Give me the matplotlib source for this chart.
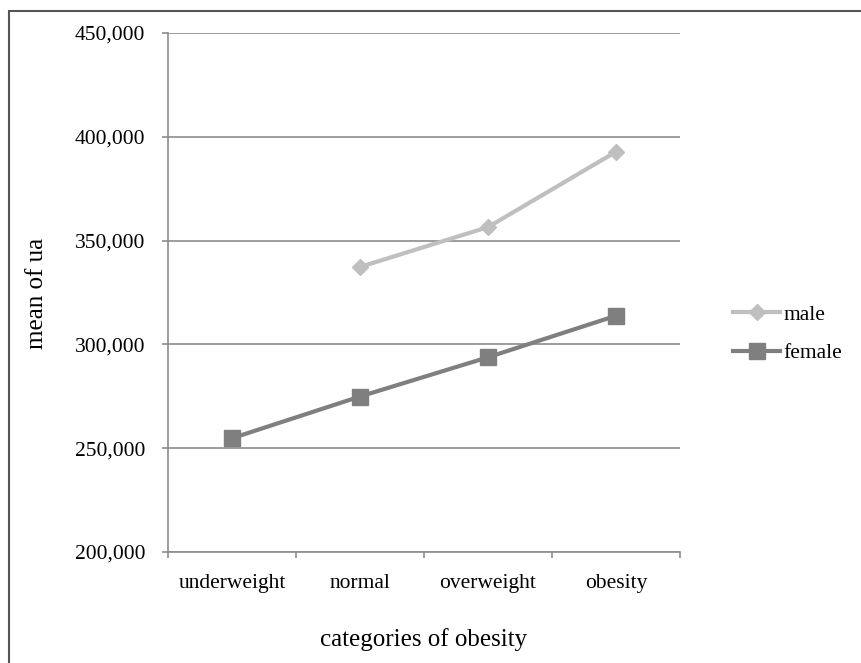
import matplotlib.pyplot as plt
import numpy as np
from matplotlib.patches import Rectangle

plt.rcParams['font.family'] = ['Liberation Serif', 'DejaVu Serif']

# Data
categories = ["underweight", "normal", "overweight", "obesity"]
male = [np.nan, 337300, 356500, 392800]
female = [254800, 274900, 293800, 313800]
yticks = [200000, 250000, 300000, 350000, 400000, 450000]

fig = plt.figure(figsize=(8.62, 6.63), dpi=100)
ax = fig.add_axes([168 / 862, 1 - 552 / 663, 512 / 862, 519 / 663])

x = np.arange(len(categories))
grid_col = "#8c8c8c"

# Lines
ax.plot(x, male, color="#bfbfbf", lw=3, marker="D", ms=8.5,
        label="male", zorder=3)
ax.plot(x, female, color="#7f7f7f", lw=3, marker="s", ms=11,
        label="female", zorder=3)

# Axes formatting
ax.set_xlim(-0.5, 3.5)
ax.set_ylim(200000, 450000)
ax.set_yticks(yticks)
ax.set_yticklabels([f"{v:,}" for v in yticks])
ax.yaxis.grid(True, color=grid_col, lw=1.2)
ax.set_axisbelow(True)

ax.set_xticks(np.arange(-0.5, 4, 1))
ax.set_xticklabels([])
ax.set_xticks(x, minor=True)
ax.set_xticklabels(categories, minor=True)
ax.tick_params(axis="x", which="minor", length=0, pad=16, labelsize=15.5)
ax.tick_params(axis="x", which="major", length=4.5, color=grid_col, width=1.2)
ax.tick_params(axis="y", length=4.5, color=grid_col, width=1.2, pad=12,
               labelsize=15.5)

for s in ["top", "right"]:
    ax.spines[s].set_visible(False)
for s in ["left", "bottom"]:
    ax.spines[s].set_color(grid_col)
    ax.spines[s].set_linewidth(1.2)

fig.text(37 / 862, 1 - 293 / 663, "mean of ua", rotation=90,
         ha="center", va="center", fontsize=18)
fig.text(424 / 862, 1 - 640 / 663, "categories of obesity",
         ha="center", va="center", fontsize=18)

ax.legend(loc="center left", bbox_to_anchor=(733 / 862, 1 - 334 / 663),
          bbox_transform=fig.transFigure, frameon=False, fontsize=15.5,
          handlelength=2.2, handletextpad=0.15, labelspacing=0.85,
          borderpad=0, borderaxespad=0)

# Frame around figure
fig.patches.append(Rectangle((9 / 862, -0.01), 1.0, 1 - 11 / 663 + 0.01,
                             transform=fig.transFigure, fill=False,
                             edgecolor="#555555", lw=1.5))

fig.savefig("out.png", dpi=100)
